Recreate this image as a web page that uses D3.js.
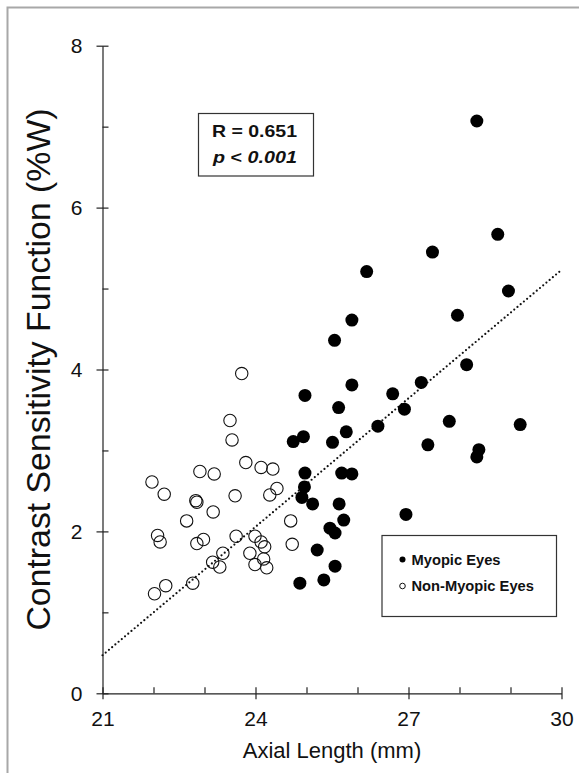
<!DOCTYPE html>
<html>
<head>
<meta charset="utf-8">
<script src="https://cdn.jsdelivr.net/npm/d3@7/dist/d3.min.js"></script>
<style>
  html, body { margin: 0; padding: 0; background: #fff; }
  svg { display: block; font-family: "Liberation Sans", Arial, sans-serif; }
</style>
</head>
<body>
<svg id="chart" width="579" height="773"></svg>
<script>
// ---- data ----
const myopicX = [28.34, 28.75, 27.47, 26.18, 28.96, 27.96, 25.89, 25.55, 28.14, 27.25,
                 25.89, 26.69, 24.97, 25.63, 26.92, 27.80, 29.19, 26.40, 25.78, 24.94,
                 24.74, 25.51, 27.38, 28.38, 28.34, 24.97, 25.69, 25.89, 24.96, 24.91,
                 25.12, 25.64, 26.95, 25.73, 25.46, 25.56, 25.21, 25.56, 24.87, 25.34];
const myopicY = [7.07, 5.67, 5.45, 5.21, 4.97, 4.67, 4.61, 4.36, 4.06, 3.84,
                 3.81, 3.70, 3.68, 3.53, 3.51, 3.36, 3.32, 3.30, 3.23, 3.17,
                 3.11, 3.10, 3.07, 3.01, 2.92, 2.72, 2.72, 2.71, 2.55, 2.42,
                 2.34, 2.34, 2.21, 2.14, 2.04, 1.98, 1.77, 1.57, 1.36, 1.40];
const nonMyopicX = [23.73, 23.50, 23.54, 23.81, 24.11, 24.34, 22.91, 23.19, 21.97, 22.21,
                    24.42, 24.28, 23.60, 22.83, 22.85, 23.17, 22.65, 22.08, 22.13, 22.85,
                    22.98, 23.62, 23.99, 24.11, 24.18, 23.89, 24.16, 23.99, 24.22, 24.69,
                    24.72, 23.36, 23.16, 23.30, 22.77, 22.24, 22.02];
const nonMyopicY = [3.95, 3.37, 3.13, 2.85, 2.79, 2.77, 2.74, 2.71, 2.61, 2.46,
                    2.53, 2.45, 2.44, 2.38, 2.36, 2.24, 2.13, 1.95, 1.87, 1.85,
                    1.90, 1.94, 1.94, 1.87, 1.81, 1.73, 1.66, 1.59, 1.55, 2.13,
                    1.84, 1.73, 1.62, 1.56, 1.36, 1.33, 1.23];
const trendX = [21, 30];
const trendY = [0.47, 5.23];
const xMajorTicks = [21, 24, 27, 30];
const xMinorTicks = [22, 23, 25, 26, 28, 29];
const yMajorTicks = [0, 2, 4, 6, 8];
const yMinorTicks = [1, 3, 5, 7];
const xLabel = "Axial Length (mm)";
const yLabel = "Contrast Sensitivity Function (%W)";
const statLine1 = "R = 0.651";
const legendLabels = ["Myopic Eyes", "Non-Myopic Eyes"];

// ---- layout ----
const svg = d3.select("#chart");
const x = d3.scaleLinear().domain([21, 30]).range([102.5, 561.5]);
const y = d3.scaleLinear().domain([0, 8]).range([693.3, 45.7]);
const axisColor = "#222";

// frame (top and left edges)
svg.append("path")
  .attr("d", "M7.5,773 L7.5,7.5 L579,7.5")
  .attr("fill", "none").attr("stroke", "#a8a8a8").attr("stroke-width", 2);

// x axis
const gx = svg.append("g").attr("transform", `translate(0,${y(0)})`);
gx.call(d3.axisBottom(x).tickValues(xMajorTicks).tickSize(6).tickSizeOuter(0).tickPadding(12).tickFormat(d3.format("d")));
gx.selectAll(".tick line").attr("y1", -6);
gx.selectAll(".tick text").attr("font-size", 21).attr("fill", "#111").attr("font-family", "Liberation Sans, Arial, sans-serif");
const gxm = svg.append("g").attr("transform", `translate(0,${y(0)})`);
gxm.call(d3.axisBottom(x).tickValues(xMinorTicks).tickSize(-6).tickSizeOuter(0).tickFormat(""));
gxm.select(".domain").remove();

// y axis
const gy = svg.append("g").attr("transform", `translate(${x(21)},0)`);
gy.call(d3.axisLeft(y).tickValues(yMajorTicks).tickSize(6).tickSizeOuter(0).tickPadding(14).tickFormat(d3.format("d")));
gy.selectAll(".tick line").attr("x1", 6);
gy.selectAll(".tick text").attr("font-size", 21).attr("fill", "#111").attr("font-family", "Liberation Sans, Arial, sans-serif");
const gym = svg.append("g").attr("transform", `translate(${x(21)},0)`);
gym.call(d3.axisLeft(y).tickValues(yMinorTicks).tickSize(-6).tickSizeOuter(0).tickFormat(""));
gym.select(".domain").remove();

svg.selectAll(".domain, .tick line").attr("stroke", axisColor).attr("stroke-width", 1.2);

// axis titles
svg.append("text")
  .attr("x", 332).attr("y", 758)
  .attr("text-anchor", "middle").attr("font-size", 22).attr("fill", "#111")
  .text(xLabel);
svg.append("text")
  .attr("transform", "translate(50,369.5) rotate(-90)")
  .attr("text-anchor", "middle").attr("font-size", 33.8).attr("fill", "#111")
  .text(yLabel);

// non-myopic points (open)
const nonData = nonMyopicX.map((v, i) => ({x: v, y: nonMyopicY[i]}));
svg.append("g").selectAll("circle").data(nonData).join("circle")
  .attr("cx", d => x(d.x)).attr("cy", d => y(d.y)).attr("r", 6.2)
  .attr("fill", "none").attr("stroke", "#111").attr("stroke-width", 1.1);

// trend line (dotted)
const trendData = trendX.map((v, i) => ({x: v, y: trendY[i]}));
svg.append("path")
  .datum(trendData)
  .attr("d", d3.line().x(d => x(d.x)).y(d => y(d.y)))
  .attr("fill", "none").attr("stroke", "#111").attr("stroke-width", 2.2)
  .attr("stroke-dasharray", "0,4.2").attr("stroke-linecap", "round");

// myopic points (filled)
const myoData = myopicX.map((v, i) => ({x: v, y: myopicY[i]}));
svg.append("g").selectAll("circle").data(myoData).join("circle")
  .attr("cx", d => x(d.x)).attr("cy", d => y(d.y)).attr("r", 6.5)
  .attr("fill", "#000");

// stats box
svg.append("rect")
  .attr("x", 198.5).attr("y", 113.5).attr("width", 115).attr("height", 62.5)
  .attr("fill", "#fff").attr("stroke", "#333").attr("stroke-width", 1.2);
svg.append("text")
  .attr("x", 212).attr("y", 136.5)
  .attr("textLength", 85).attr("lengthAdjust", "spacingAndGlyphs")
  .attr("font-size", 16.5).attr("font-weight", "bold").attr("fill", "#111")
  .text(statLine1);
const t2 = svg.append("text")
  .attr("x", 213).attr("y", 162.5)
  .attr("textLength", 84).attr("lengthAdjust", "spacingAndGlyphs")
  .attr("font-size", 16.5).attr("font-weight", "bold").attr("fill", "#111");
t2.append("tspan").attr("font-style", "italic").text("p");
t2.append("tspan").text(" < ");
t2.append("tspan").attr("font-style", "italic").text("0.001");

// legend
svg.append("rect")
  .attr("x", 382).attr("y", 535.5).attr("width", 174.5).attr("height", 81)
  .attr("fill", "#fff").attr("stroke", "#333").attr("stroke-width", 1.2);
const lg = svg.append("g");
lg.append("circle").attr("cx", 402.5).attr("cy", 559.5).attr("r", 3).attr("fill", "#000");
lg.append("circle").attr("cx", 402.5).attr("cy", 586).attr("r", 2.8)
  .attr("fill", "none").attr("stroke", "#111").attr("stroke-width", 1);
lg.selectAll("text").data(legendLabels).join("text")
  .attr("x", 411.5).attr("y", (d, i) => 564.5 + i * 26.5)
  .attr("font-size", 14.7).attr("font-weight", "bold").attr("fill", "#111")
  .text(d => d);
</script>
</body>
</html>
